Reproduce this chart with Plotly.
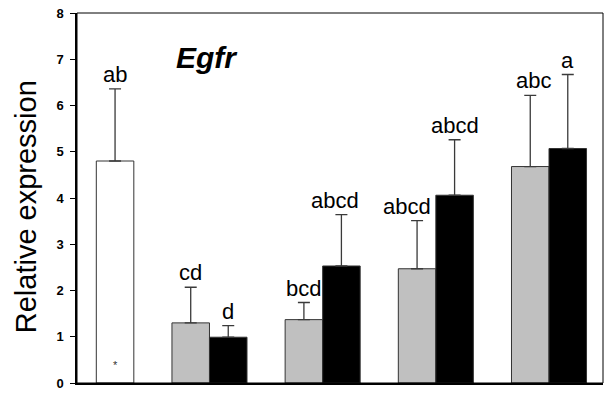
import plotly.graph_objects as go

# Relative Egfr expression per group (mean and upper SE)
groups = [0, 1, 2, 3, 4]
control_value = [4.80]
control_err = [1.56]
control_label = ["ab"]

gray_values = [None, 1.30, 1.37, 2.47, 4.68]
gray_errs = [None, 0.77, 0.37, 1.04, 1.54]
gray_labels = [None, "cd", "bcd", "abcd", "abc"]

black_values = [None, 0.99, 2.53, 4.06, 5.07]
black_errs = [None, 0.25, 1.11, 1.20, 1.60]
black_labels = [None, "d", "abcd", "abcd", "a"]

y_ticks = [0, 1, 2, 3, 4, 5, 6, 7, 8]

# small horizontal nudges (px) so neighbouring letters don't collide
gray_label_nudge = [0, 0, 0, -10, 3]
black_label_nudge = [0, 0, -6, 0, 0]

FONT = "Liberation Sans, Arial, sans-serif"
EDGE = "#333333"
ERR_COLOR = "#3a3a3a"

fig = go.Figure()


def err_spec(errs):
    return dict(type="data", symmetric=False,
                array=[e if e is not None else 0 for e in errs],
                arrayminus=[0] * len(errs),
                color=ERR_COLOR, thickness=1.3, width=6)


fig.add_trace(go.Bar(
    x=groups, y=gray_values, offsetgroup="g",
    marker=dict(color="#c0c0c0", line=dict(color=EDGE, width=1)),
    error_y=err_spec(gray_errs), showlegend=False,
))
fig.add_trace(go.Bar(
    x=groups, y=black_values, offsetgroup="b",
    marker=dict(color="#000000", line=dict(color=EDGE, width=1)),
    error_y=err_spec(black_errs), showlegend=False,
))
fig.add_trace(go.Bar(
    x=groups[:1], y=control_value, offsetgroup="b",
    marker=dict(color="#ffffff", line=dict(color=EDGE, width=1)),
    error_y=err_spec(control_err), showlegend=False,
))

# Significance letters above each error bar
bar_w = 0.332
annotations = []


def add_letters(values, errs, labels, shift, nudges):
    for g, v, e, t, n in zip(groups, values, errs, labels, nudges):
        if v is None or t is None:
            continue
        annotations.append(dict(
            x=g + shift, y=v + e, text=t, showarrow=False,
            xanchor="center", yanchor="bottom", xshift=n,
            font=dict(family=FONT, size=22, color="black"),
        ))


add_letters(gray_values, gray_errs, gray_labels, -bar_w / 2, gray_label_nudge)
add_letters(black_values, black_errs, black_labels, bar_w / 2, black_label_nudge)
add_letters(control_value, control_err, control_label, bar_w / 2, [0])

# Marker inside the control bar
annotations.append(dict(
    x=groups[0] + bar_w / 2, y=0.4, text="*", showarrow=False,
    font=dict(family=FONT, size=11, color="#333333"),
))

# Gene name
annotations.append(dict(
    x=0.247, y=0.88, xref="paper", yref="paper", text="<b><i>Egfr</i></b>",
    showarrow=False, xanchor="center", yanchor="middle",
    font=dict(family=FONT, size=30, color="black"),
))

# Y-axis title
annotations.append(dict(
    x=0, y=0.475, xref="paper", yref="paper", xshift=-51,
    text="Relative expression", textangle=-90, showarrow=False,
    xanchor="center", yanchor="middle",
    font=dict(family=FONT, size=29, color="black"),
))

fig.update_layout(
    width=609, height=397,
    margin=dict(l=77, r=6, t=10, b=8),
    paper_bgcolor="white", plot_bgcolor="white",
    barmode="group", bargap=0.337, bargroupgap=0,
    annotations=annotations,
    shapes=[dict(type="rect", xref="paper", yref="paper", x0=0, x1=1, y0=0, y1=1,
                 line=dict(color="black", width=1))],
    xaxis=dict(range=[-0.1705, 4.477], showticklabels=False, ticks="",
               showgrid=False, zeroline=False, showline=True,
               linecolor="black", linewidth=2),
    yaxis=dict(range=[0, 8], tickvals=y_ticks,
               ticktext=[f"<b>{v}</b>" for v in y_ticks],
               ticks="outside", ticklen=5, tickcolor="black",
               ticklabelstandoff=4,
               tickfont=dict(family=FONT, size=13, color="black"),
               showgrid=False, zeroline=False, showline=True,
               linecolor="black", linewidth=1.5),
)

fig.write_html("out.html")
